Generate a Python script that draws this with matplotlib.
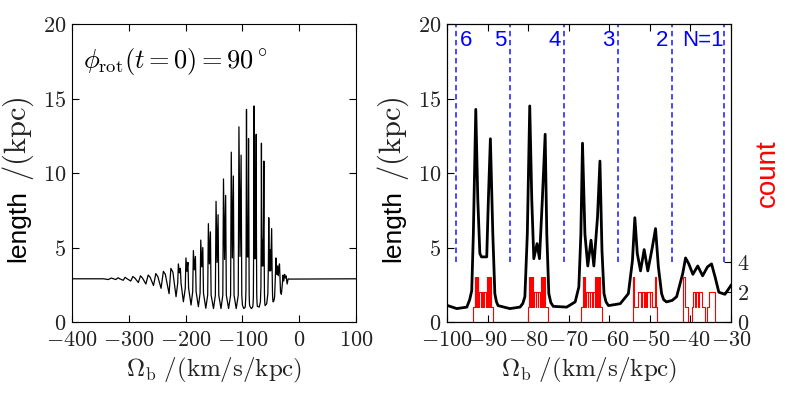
import numpy as np
import matplotlib
matplotlib.use("Agg")
import matplotlib.pyplot as plt
from matplotlib.ticker import FuncFormatter

plt.rcParams["font.family"] = "sans-serif"
plt.rcParams["font.sans-serif"] = ["Liberation Sans"]
plt.rcParams["mathtext.fontset"] = "cm"

# zoomed curve (right panel), also used in the left panel
rx = [-100, -97.6, -95.1, -94.4, -93.9, -93.5, -92.9, -92.4, -91.9, -91.5, -90.2, -89.8,
      -89.3, -88.7, -88.2, -87.8, -87.4, -84.5, -82.0, -81.3, -80.8, -80.2, -79.6, -79.1,
      -78.6, -77.8, -77.2, -76.5, -75.8, -75.4, -74.9, -74.4, -73.8, -70.5, -68.4, -67.5,
      -67.0, -66.6, -66.0, -65.3, -64.5, -63.8, -62.9, -62.3, -61.8, -61.3, -60.8, -60.2,
      -57.3, -55.3, -54.3, -53.7, -53.1, -52.3, -51.4, -50.5, -49.4, -48.6, -47.9, -47.1,
      -46.6, -45.9, -44.5, -43.4, -41.9, -41.2, -40.4, -39.4, -38.2, -37.0, -35.8, -34.8,
      -33.9, -33.0, -31.5, -30.0]
ry = [1.12, 0.9, 1.0, 1.5, 2.1, 5.9, 14.27, 8.2, 4.6, 4.37, 4.37, 8.2,
      12.3, 5.9, 1.9, 1.35, 1.1, 0.9, 1.0, 1.25, 1.7, 5.9, 14.5, 8.2,
      4.25, 5.26, 4.25, 8.2, 12.6, 5.9, 1.9, 1.3, 1.05, 1.0, 1.35, 2.35,
      5.9, 12.0, 5.9, 3.76, 5.49, 3.76, 7.05, 10.8, 4.8, 1.9, 1.35, 1.1,
      1.23, 1.9, 4.1, 7.0, 4.6, 3.43, 4.86, 3.43, 5.0, 6.27, 3.7, 1.9,
      1.5, 1.35, 1.45, 1.7, 3.25, 4.3, 3.9, 3.2, 3.76, 3.1, 3.7, 3.9,
      3.0, 2.0, 1.86, 2.46]

# small wiggles far from resonance (left panel)
wig_x = [-400, -345, -336, -331, -327, -323, -319, -316, -310, -306.5, -303, -296.6, -293,
         -289.5, -283.3, -279.5, -276, -270, -266, -262.5, -256.6, -252.5, -249, -243.3,
         -239.2, -235.8, -229.2, -226, -222.5]
wig_y = [2.9, 2.9, 2.85, 2.95, 2.9, 2.85, 2.97, 2.9, 2.8, 3.0, 2.9, 2.75, 3.05,
         2.95, 2.65, 3.1, 2.95, 2.55, 3.15, 3.0, 2.45, 3.25, 3.05, 2.26,
         3.4, 3.2, 1.9, 3.6, 3.35]

# resonance groups between -217 and -100
g_trough_x = [-216.9, -204.0, -190.5, -177.6, -164.5, -151.0, -137.8, -124.4, -111.0]
g_trough_y = [1.7, 1.36, 1.14, 1.03, 0.92, 0.9, 0.9, 0.9, 0.9]
g_p1_x = [-212.8, -199.5, -186.4, -173.4, -160.0, -146.5, -133.4, -119.7, -106.2]
g_p1_y = [3.9, 4.3, 4.8, 5.5, 6.6, 8.1, 9.6, 11.4, 13.1]
g_dip_y = [3.3, 3.4, 3.5, 3.7, 3.9, 4.0, 4.2, 4.3, 4.4]
g_p2_x = [-209.3, -196.0, -182.8, -169.8, -156.4, -142.9, -129.6, -116.0, -102.4]
g_p2_y = [3.6, 4.0, 4.4, 5.0, 6.05, 7.2, 8.5, 9.8, 11.2]

tail_x = [-28.6, -27.3, -25.9, -24.6, -23.2, -21.3, -19.6, -17.5, 100]
tail_y = [3.15, 2.75, 3.2, 2.95, 3.1, 2.55, 2.9, 2.88, 2.9]

# count (step curve, red)
count_x = [-100,
           -93.6, -93.2, -93.0, -92.8, -92.6, -92.4, -92.25, -92.0, -91.6, -91.45, -91.0,
           -90.85, -90.4, -90.2, -90.0, -89.8, -89.6, -89.4, -89.25, -88.6,
           -80.1, -79.75, -79.55, -79.35, -79.15, -78.95, -78.8, -78.55, -78.15, -78.0, -77.6,
           -77.45, -77.0, -76.8, -76.6, -76.4, -76.2, -76.0, -75.85, -75.2,
           -66.9, -66.55, -66.35, -66.15, -65.95, -65.75, -65.35, -65.2, -64.8, -64.65, -64.2,
           -64.05, -63.6, -63.4, -63.2, -63.0, -62.8, -62.6, -62.4, -61.8,
           -54.2, -54.05, -53.9, -52.85, -52.3, -52.05, -51.5, -51.3, -50.85, -50.65, -50.0,
           -49.85, -49.55, -48.65, -48.45, -48.15,
           -41.9, -41.75, -41.4, -40.5, -39.7, -39.4, -38.87, -38.7, -38.05, -37.9, -37.2,
           -36.4, -35.8, -35.5, -33.9,
           -30]
count_y = [0,
           1, 3, 1, 3, 1, 3, 1, 2, 1, 2, 1,
           2, 1, 3, 1, 3, 1, 3, 1, 0,
           1, 3, 1, 3, 1, 3, 1, 2, 1, 2, 1,
           2, 1, 3, 1, 3, 1, 3, 1, 0,
           1, 3, 1, 3, 1, 2, 1, 2, 1, 2, 1,
           2, 1, 3, 1, 3, 1, 3, 1, 0,
           1, 3, 1, 2, 1, 2, 1, 2, 1, 2, 1,
           2, 1, 3, 1, 0,
           1, 3, 1, 0, 1, 2, 1, 2, 1, 2, 1,
           0, 1, 2, 0,
           0]

res_lines = [-97.86, -84.5, -71.2, -57.8, -44.6, -31.65]
res_labels = ["6", "5", "4", "3", "2", "N=1"]
res_label_x = [-95.3, -86.9, -73.4, -60.2, -47.1, -36.8]

# assemble left-panel curve
lx = list(wig_x)
ly = list(wig_y)
for i in range(len(g_p1_x)):
    lx += [g_trough_x[i], g_p1_x[i] - 1.2, g_p1_x[i], (g_p1_x[i] + g_p2_x[i]) / 2,
           g_p2_x[i], g_p2_x[i] + 1.2]
    ly += [g_trough_y[i], g_trough_y[i] + 0.9, g_p1_y[i], g_dip_y[i],
           g_p2_y[i], g_trough_y[i] + 0.9]
lx += rx + tail_x
ly += ry + tail_y

mathfmt = FuncFormatter(lambda v, p: r"$%d$" % v)

fig = plt.figure(figsize=(7.89, 3.95), dpi=100, facecolor="white")
ax1 = fig.add_axes([0.0913, 0.1848, 0.36, 0.7544])
ax2 = fig.add_axes([0.5665, 0.1848, 0.36, 0.7544])

for ax in (ax1, ax2):
    ax.tick_params(direction="in", top=True, right=True, labelsize=16, length=5,
                   width=0.8, pad=4, labelcolor="#222222")
    ax.tick_params(axis="x", pad=6)
    ax.xaxis.set_major_formatter(mathfmt)
    ax.yaxis.set_major_formatter(mathfmt)
    ax.set_ylim(0, 20)
    ax.set_yticks([0, 5, 10, 15, 20])
    ax.set_xlabel(r"$\Omega_{\rm b}\ /(\mathrm{km/s/kpc})$", fontsize=18, labelpad=3,
                  color="#222222")
    # y label: sans word plus a larger math unit
    ax.text(-0.19, 0.322, "length", rotation=90, fontsize=19, ha="center",
            va="center", transform=ax.transAxes)
    ax.text(-0.19, 0.615, r"$/(\mathrm{kpc})$", rotation=90, fontsize=22,
            ha="center", va="center", transform=ax.transAxes, color="#222222")

ax1.plot(lx, ly, color="black", lw=0.9)
ax1.set_xlim(-400, 100)
ax1.set_xticks([-400, -300, -200, -100, 0, 100])
ax1.text(0.04, 0.875, r"$\phi_{\rm rot}(t=0)=90^\circ$", transform=ax1.transAxes,
         fontsize=19, va="center", ha="left")

ax2.plot(rx, ry, color="black", lw=2)
ax2.set_xlim(-100, -30)
ax2.set_xticks(np.arange(-100, -29, 10))
ax2.vlines(res_lines, 4, 20, colors="#3a3aff", linestyles=(0, (3, 2)), lw=1.3)
for lab, x in zip(res_labels, res_label_x):
    ax2.text(x, 18.9, lab, color="blue", fontsize=16, ha="center", va="center")

ax3 = ax2.twinx()
ax3.step(count_x, count_y, where="post", color="red", lw=0.8)
ax3.set_ylim(0, 20)
ax3.set_xlim(-100, -30)
ax3.set_yticks([0, 2, 4])
ax3.yaxis.set_major_formatter(mathfmt)
ax3.tick_params(direction="in", labelsize=16, length=5, width=0.8, pad=4,
                labelcolor="#222222")
ax3.set_ylabel("count", color="red", fontsize=20, labelpad=4)
ax2.tick_params(right=False)

fig.savefig("out.png", dpi=100)
